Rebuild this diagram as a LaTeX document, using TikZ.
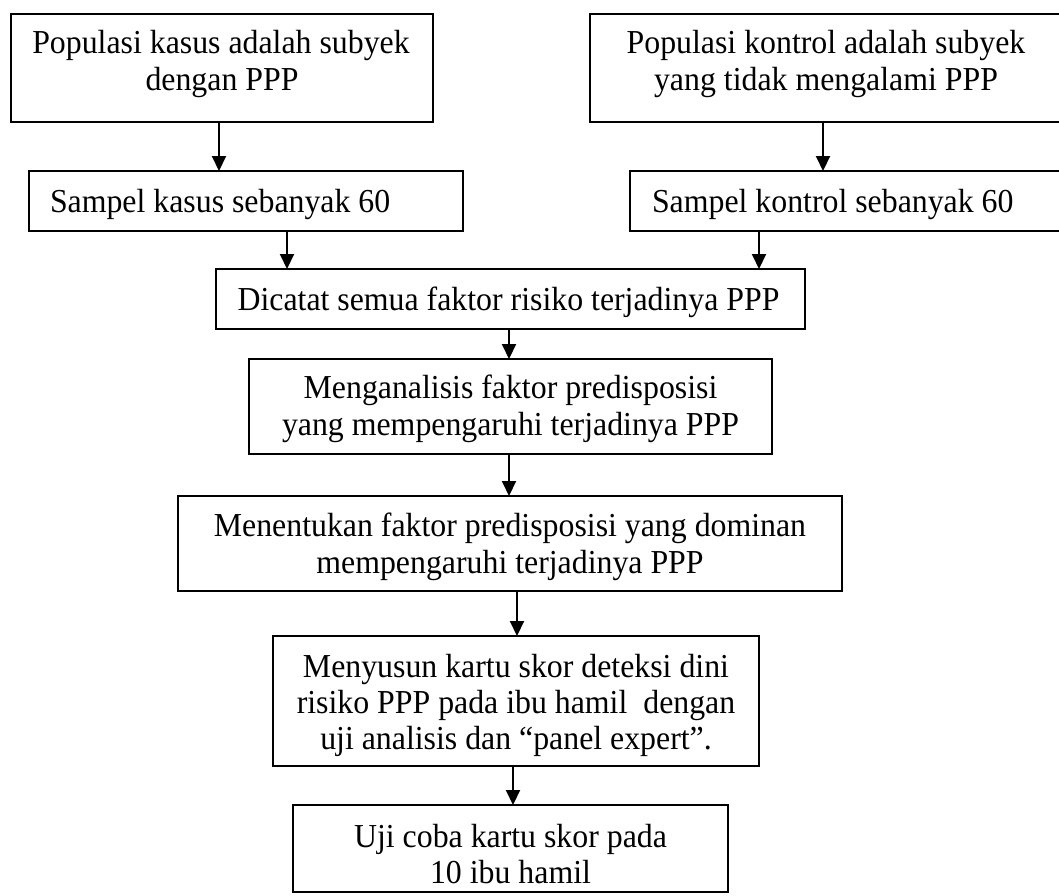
\documentclass[tikz,border=0pt]{standalone}
\usepackage{fontspec}
\setmainfont{Liberation Serif}[FakeStretch=0.95]
\usetikzlibrary{arrows.meta}
\begin{document}
\begin{tikzpicture}[x=1pt,y=-1pt,
  box/.style={draw=black, line width=2pt, inner sep=0pt, outer sep=0pt},
  txt/.style={inner sep=0pt, outer sep=0pt, anchor=base, font=\fontsize{33.5}{37}\selectfont},
  txtl/.style={txt, anchor=base west},
  arr/.style={line width=2pt, -{Triangle[width=14pt,length=15pt]}}]
\useasboundingbox (0,0) rectangle (1059,895);
\clip (0,0) rectangle (1059,895);
% boxes
\node[box, minimum width=422pt, minimum height=108pt] (b1) at (222,68) {};
\node[box, minimum width=474pt, minimum height=108pt] (b2) at (827,68) {};
\node[box, minimum width=434pt, minimum height=60pt] (b3) at (246,201) {};
\node[box, minimum width=434pt, minimum height=60pt] (b4) at (847,201) {};
\node[box, minimum width=589pt, minimum height=60pt] (b5) at (510.5,299) {};
\node[box, minimum width=523pt, minimum height=95pt] (b6) at (510.5,406.5) {};
\node[box, minimum width=664pt, minimum height=95pt] (b7) at (510,543.5) {};
\node[box, minimum width=486pt, minimum height=130pt] (b8) at (516,701) {};
\node[box, minimum width=435pt, minimum height=87pt] (b9) at (510.5,848.5) {};
% texts
\node[txt] (t1a) at (221,53) {Populasi kasus adalah subyek};
\node[txt] (t1b) at (222,90) {dengan PPP};
\node[txt] (t2a) at (826,53) {Populasi kontrol adalah subyek};
\node[txt] (t2b) at (826,90) {yang tidak mengalami PPP};
\node[txtl] (t3) at (50,212) {Sampel kasus sebanyak 60};
\node[txtl] (t4) at (652,212) {Sampel kontrol sebanyak 60};
\node[txt] (t5) at (508.5,310) {Dicatat semua faktor risiko terjadinya PPP};
\node[txt] (t6a) at (510.5,398) {Menganalisis faktor predisposisi};
\node[txt] (t6b) at (510.5,435) {yang mempengaruhi terjadinya PPP};
\node[txt] (t7a) at (510,536) {Menentukan faktor predisposisi yang dominan};
\node[txt] (t7b) at (510,573) {mempengaruhi terjadinya PPP};
\node[txt] (t8a) at (516,677) {Menyusun kartu skor deteksi dini};
\node[txt] (t8b) at (516,713) {risiko PPP pada ibu hamil\ \ dengan};
\node[txt] (t8c) at (516,749) {uji analisis dan “panel expert”.};
\node[txt] (t9a) at (510.5,847) {Uji coba kartu skor pada};
\node[txt] (t9b) at (510.5,883) {10 ibu hamil};
% arrows
\draw[arr] ([xshift=-3pt]b1.south) -- ([xshift=-3pt]b1.south |- b3.north);
\draw[arr] ([xshift=-4pt]b2.south) -- ([xshift=-4pt]b2.south |- b4.north);
\draw[arr] ([xshift=41pt]b3.south) -- ([xshift=41pt]b3.south |- b5.north);
\draw[arr] ([xshift=-88pt]b4.south) -- ([xshift=-88pt]b4.south |- b5.north);
\draw[arr] ([xshift=-1.5pt]b5.south) -- ([xshift=-1.5pt]b5.south |- b6.north);
\draw[arr] ([xshift=-1.5pt]b6.south) -- ([xshift=-1.5pt]b6.south |- b7.north);
\draw[arr] ([xshift=7pt]b7.south) -- ([xshift=7pt]b7.south |- b8.north);
\draw[arr] ([xshift=-3pt]b8.south) -- ([xshift=-3pt]b8.south |- b9.north);
\end{tikzpicture}
\end{document}
